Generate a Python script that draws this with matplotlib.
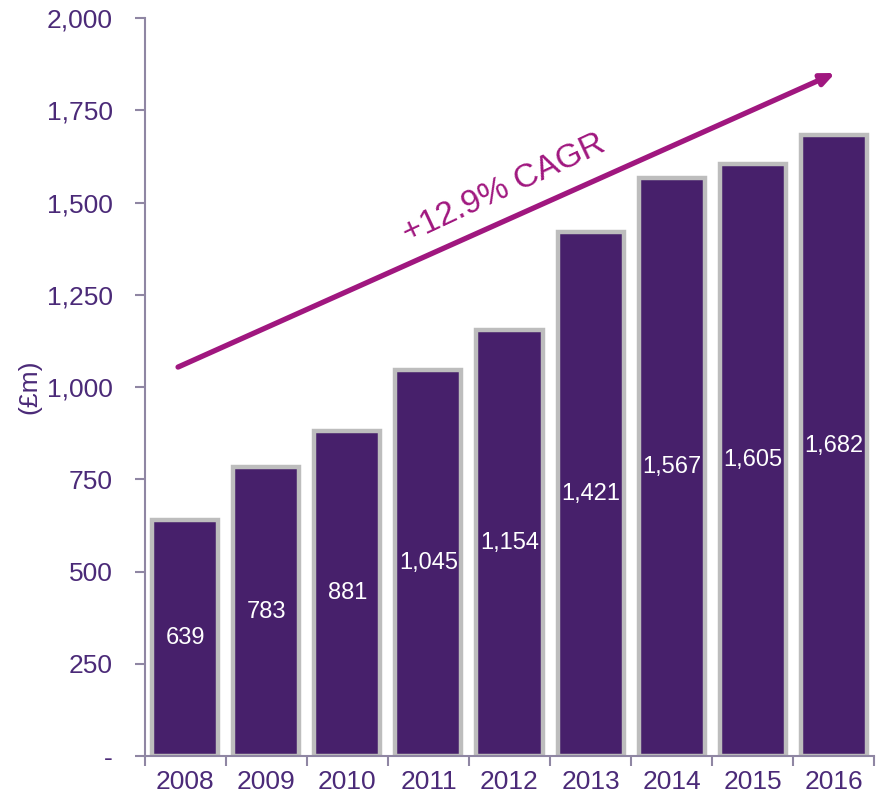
import numpy as np
import matplotlib.pyplot as plt

plt.rcParams['font.family'] = ['Liberation Sans', 'DejaVu Sans']

years = ['2008', '2009', '2010', '2011', '2012', '2013', '2014', '2015', '2016']
revenue = [639, 783, 881, 1045, 1154, 1421, 1567, 1605, 1682]
value_labels = ['639', '783', '881', '1,045', '1,154', '1,421', '1,567', '1,605', '1,682']
yticks = [0, 250, 500, 750, 1000, 1250, 1500, 1750, 2000]
ytick_labels = ['-', '250', '500', '750', '1,000', '1,250', '1,500', '1,750', '2,000']

bar_col = '#47206B'
txt_col = '#4B2A78'
axis_col = '#8F86A3'
arrow_col = '#A0177F'

fig = plt.figure(figsize=(8.83, 8), dpi=100)
ax = fig.add_axes([0.164, 0.055, 0.826, 0.9225])

x = np.arange(len(years))
ax.bar(x, revenue, width=0.815, color=bar_col, edgecolor='#BDBDBD', linewidth=3.2)

for xi, v, lab in zip(x, revenue, value_labels):
    ax.text(xi, v / 2, lab, ha='center', va='center', color='white', fontsize=17)

ax.set_xlim(-0.5, len(years) - 0.5)
ax.set_ylim(0, 2000)
ax.set_yticks(yticks)
ax.set_yticklabels(ytick_labels)
ax.set_xticks(x)
ax.set_xticklabels(years)
ax.set_xticks(np.arange(-0.5, len(years)), minor=True)

ax.tick_params(axis='y', colors=axis_col, labelcolor=txt_col, labelsize=19,
               length=7, width=1.5, direction='out', pad=16)
ax.tick_params(axis='x', which='major', length=0, labelcolor=txt_col, labelsize=19, pad=10)
ax.tick_params(axis='x', which='minor', length=7, width=1.5, color=axis_col, direction='out')

for s in ['top', 'right']:
    ax.spines[s].set_visible(False)
for s in ['left', 'bottom']:
    ax.spines[s].set_color(axis_col)
    ax.spines[s].set_linewidth(1.5)

ax.set_ylabel('(£m)', color=txt_col, fontsize=19, labelpad=4)

# CAGR arrow
ax.annotate('', xy=(8.02, 1851), xytext=(-0.09, 1054),
            arrowprops=dict(arrowstyle='-|>,head_length=0.8,head_width=0.35',
                            color=arrow_col, lw=3.8, shrinkA=0, shrinkB=0))
ax.text(3.93, 1538, '+12.9% CAGR', rotation=25, ha='center', va='center',
        color=arrow_col, fontsize=24, rotation_mode='anchor')

fig.savefig('out.png', dpi=100)
